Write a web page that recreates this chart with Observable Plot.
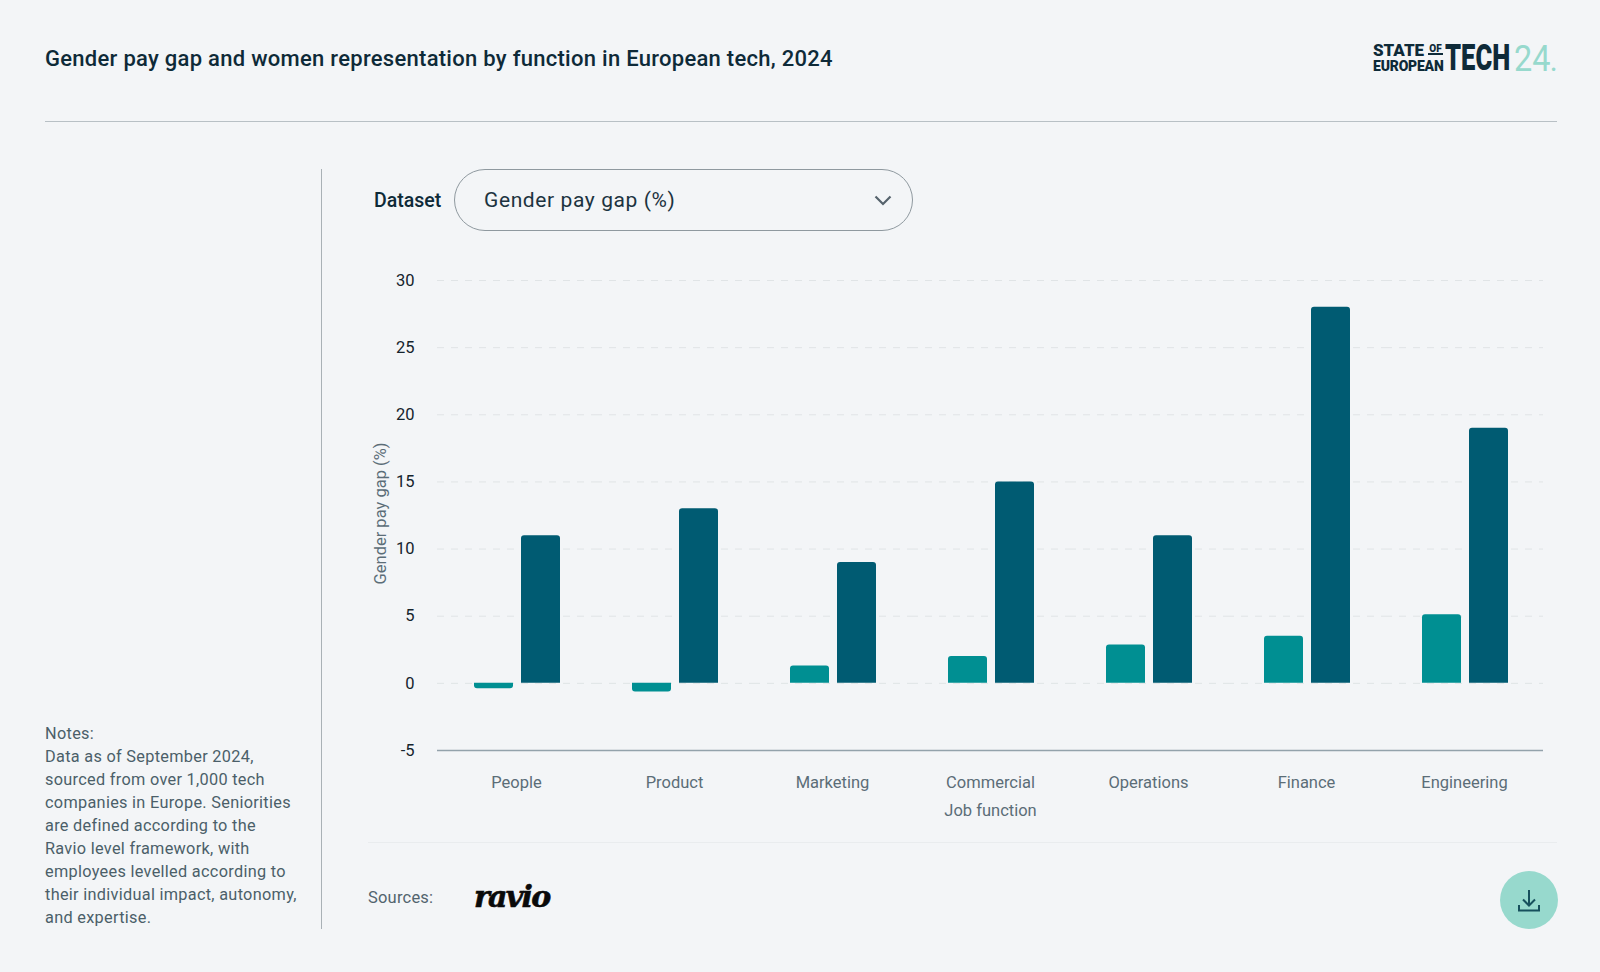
<!DOCTYPE html>
<html><head><meta charset="utf-8">
<script src="https://cdn.jsdelivr.net/npm/d3@7"></script>
<script src="https://cdn.jsdelivr.net/npm/@observablehq/plot@0.6"></script>
<style>
html,body{margin:0;padding:0;background:#f3f5f7;}
body{width:1600px;height:972px;position:relative;overflow:hidden;font-family:Roboto,sans-serif;color:#0e2a38;}
.abs{position:absolute;white-space:nowrap;}
#chart{position:absolute;left:360px;top:260px;}
#chart svg{background:transparent;overflow:visible;}
</style></head><body>
<div class="abs" id="title" style="left:45px;top:45px;font-size:22px;font-weight:500;line-height:28px;letter-spacing:.28px;color:#0e2a38;">Gender pay gap and women representation by function in European tech, 2024</div>
<div class="abs" style="left:45px;top:121px;width:1512px;height:1px;background:#b8c0c5;"></div>
<div class="abs" style="left:321px;top:169px;width:1px;height:760px;background:#a9b1b6;"></div>

<div class="abs" style="left:1373px;top:44px;font-size:16px;font-weight:900;line-height:14px;color:#0e2a38;letter-spacing:0;transform-origin:left top;transform:scaleX(1.06);">STATE</div>
<div class="abs" style="left:1373px;top:59px;font-size:15.5px;font-weight:900;line-height:14px;color:#0e2a38;letter-spacing:-.2px;transform-origin:left top;transform:scaleX(.9);">EUROPEAN</div>
<div class="abs" style="left:1428px;top:44px;width:15px;text-align:center;font-size:10px;font-weight:900;line-height:9px;color:#0e2a38;border-bottom:2px solid #0e2a38;">OF</div>
<div class="abs" style="left:1445px;top:39px;font-size:37px;font-weight:900;line-height:38px;color:#0e2a38;transform-origin:left top;transform:scaleX(.69);">TECH</div>
<div class="abs" style="left:1514px;top:40px;font-size:36px;font-weight:400;line-height:38px;color:#97d9cd;transform-origin:left top;transform:scaleX(.9);">24<span style="font-size:24px;font-weight:700;">.</span></div>

<div class="abs" style="left:374px;top:189px;font-size:19.5px;font-weight:500;line-height:24px;color:#0e2a38;">Dataset</div>
<div class="abs" style="left:454px;top:169px;width:457px;height:60px;border:1px solid #8f999f;border-radius:31px;"></div>
<div class="abs" style="left:484px;top:185px;font-size:21px;line-height:30px;color:#1c3340;letter-spacing:.6px;">Gender pay gap (%)</div>
<svg class="abs" style="left:873px;top:194px;" width="20" height="13" viewBox="0 0 20 13"><path d="M2.5 2.5 L10 10 L17.5 2.5" fill="none" stroke="#56636c" stroke-width="2.2"/></svg>

<div id="chart"></div>

<div class="abs" style="left:368px;top:842px;width:1189px;height:1px;background:#e9ecee;"></div>
<div class="abs" style="left:368px;top:886px;font-size:16.5px;line-height:24px;letter-spacing:.2px;color:#52646e;">Sources:</div>
<div class="abs" style="left:474px;top:876px;font-family:'DejaVu Serif',serif;font-size:30px;font-weight:700;font-style:italic;line-height:42px;color:#0a0a0a;letter-spacing:-1.7px;-webkit-text-stroke:.6px #0a0a0a;">ravio</div>
<div class="abs" style="left:1500px;top:871px;width:58px;height:58px;border-radius:50%;background:#97d9cd;"></div>
<svg class="abs" style="left:1516px;top:888px;" width="26" height="26" viewBox="0 0 26 26"><path d="M13 2 V17 M7 11.5 L13 17.5 L19 11.5 M3 17 V22.5 H23 V17" fill="none" stroke="#17505d" stroke-width="2"/></svg>

<div class="abs" id="notes" style="left:45px;top:722px;width:265px;white-space:normal;font-size:16.3px;line-height:23px;letter-spacing:.3px;color:#4b5f69;">Notes:<br>Data as of September 2024,<br>sourced from over 1,000 tech<br>companies in Europe. Seniorities<br>are defined according to the<br>Ravio level framework, with<br>employees levelled according to<br>their individual impact, autonomy,<br>and expertise.</div>

<script>
const functions = ["People","Product","Marketing","Commercial","Operations","Finance","Engineering"];
const adjustedGap = [-0.4,-0.65,1.3,2.0,2.85,3.5,5.1];
const unadjustedGap = [11,13,9,15,11,28,19];
const yTicks = [-5,0,5,10,15,20,25,30];
const gridTicks = [0,5,10,15,20,25,30];
const baseline = [-5];
const seriesNames = ["adjusted","unadjusted"];
const seriesColors = ["#008f92","#005b72"];
const yLabel = "Gender pay gap (%)";
const xLabel = "Job function";

const rows = functions.flatMap((f,i)=>[
  {fn:f,series:seriesNames[0],value:adjustedGap[i]},
  {fn:f,series:seriesNames[1],value:unadjustedGap[i]}
]);

const font = "Roboto, sans-serif";
const chart = Plot.plot({
  width:1200,height:570,
  marginTop:20,marginBottom:80,marginLeft:77,marginRight:17,
  style:{background:"transparent",fontFamily:font,fontSize:"16px"},
  fx:{domain:functions,padding:0,label:null},
  x:{domain:seriesNames,paddingInner:0.18,paddingOuter:0.757,align:0.517,axis:null},
  y:{domain:[-5,30],label:null},
  color:{domain:seriesNames,range:seriesColors},
  marks:[
    Plot.ruleY(gridTicks,{y:d=>d,stroke:"#e0e4e6",strokeWidth:1,strokeDasharray:"7 7"}),
    Plot.ruleY(baseline,{y:d=>d,stroke:"#93a2ab",strokeWidth:1.5}),
    Plot.barY(rows,{filter:d=>d.value>=0,fx:"fn",x:"series",y1:0,y2:"value",fill:"series",rx1y1:3,rx2y1:3}),
    Plot.barY(rows,{filter:d=>d.value<0,fx:"fn",x:"series",y1:0,y2:"value",fill:"series",rx1y2:3,rx2y2:3}),
    Plot.axisY({ticks:yTicks,tickSize:0,tickPadding:23,tickFormat:d=>String(d),label:null,fill:"#15242d",fontSize:16.5}),
    Plot.axisFx({anchor:"bottom",tickSize:0,tickPadding:26,label:null,fill:"#5b6d77",fontSize:16.5}),
    Plot.text([yLabel],{frameAnchor:"left",textAnchor:"middle",rotate:-90,dx:-57,dy:-2,facet:"super",fill:"#5b6d77",fontSize:16.5}),
    Plot.text([xLabel],{frameAnchor:"bottom",dy:65,facet:"super",fill:"#5b6d77",fontSize:16.5})
  ]
});
document.getElementById("chart").appendChild(chart);
</script>
</body></html>
